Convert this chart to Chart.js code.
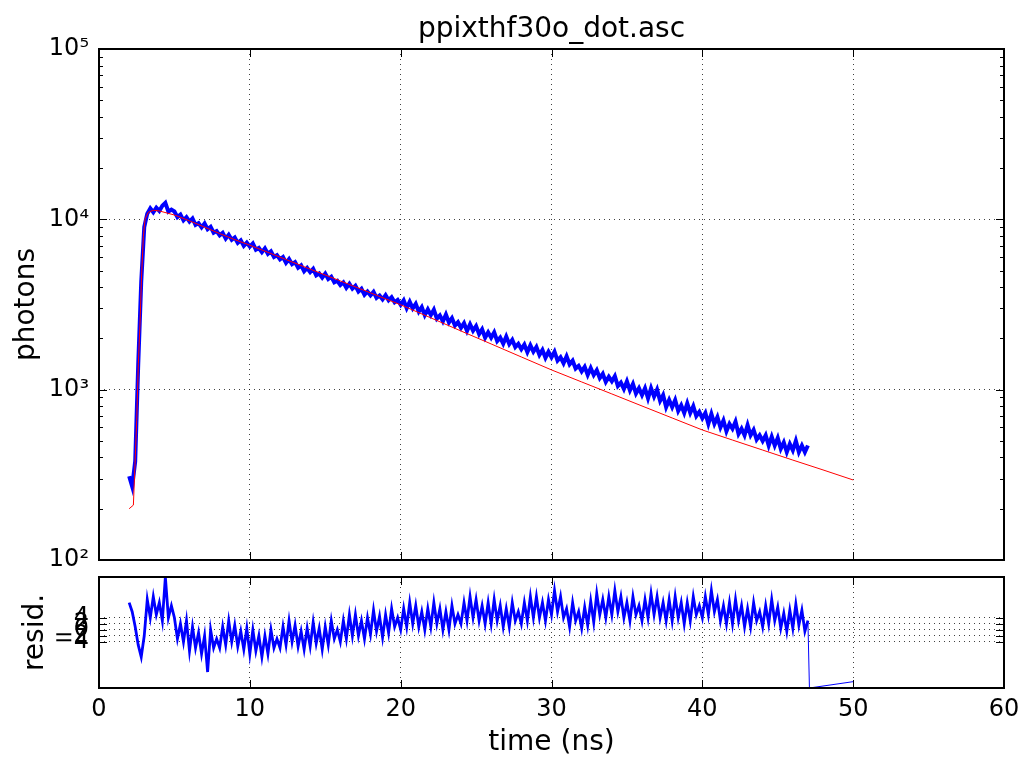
<!DOCTYPE html>
<html>
<head>
<meta charset="utf-8">
<script src="https://cdn.jsdelivr.net/npm/chart.js@4.4.1/dist/chart.umd.min.js"></script>
<style>
  html, body { margin: 0; padding: 0; background: #fff; }
  #wrap { position: relative; width: 1026px; height: 760px; }
  #decayBox { position: absolute; left: 0; top: 0; width: 1026px; height: 580px; }
  #residBox { position: absolute; left: 0; top: 565px; width: 1026px; height: 195px; }
</style>
</head>
<body>
<div id="wrap">
  <div id="decayBox"><canvas id="decayChart"></canvas></div>
  <div id="residBox"><canvas id="residChart"></canvas></div>
</div>
<script>
// labels / ticks
var chartTitle = 'ppixthf30o_dot.asc';
var xTicks = [0, 10, 20, 30, 40, 50, 60];
var photonDecades = [100, 1000, 10000, 100000];
var photonTickLabels = ['10\u00b2', '10\u00b3', '10\u2074', '10\u2075'];
var residTicks = [4, 2, 0, -2, -4];
var residTickLabels = ['4', '2', '0', '\u22122', '\u22124'];

var dataStart = 2.0;
var dataStep = 0.2;
var photonCounts = [
  310, 270, 380, 1400, 4300,
  9000, 10800, 11600, 11000, 11700,
  11200, 12000, 12500, 11100, 11400,
  11120, 10300, 10650, 9860, 10300,
  9700, 10120, 9280, 9500, 8970,
  9460, 8750, 9030, 8340, 8530,
  8050, 8320, 7700, 8120, 7590,
  7830, 7270, 7530, 6980, 7300,
  6910, 7220, 6630, 6790, 6410,
  6760, 6270, 6490, 6010, 6160,
  5820, 6010, 5550, 5840, 5450,
  5610, 5200, 5370, 4960, 5180,
  4900, 5120, 4690, 4810, 4550,
  4800, 4460, 4600, 4270, 4360,
  4120, 4270, 3960, 4180, 3920,
  4070, 3770, 3910, 3610, 3770,
  3580, 3750, 3460, 3570, 3390,
  3590, 3350, 3490, 3260, 3360,
  3150, 3350, 3010, 3280, 3000,
  3190, 2870, 3050, 2740, 2960,
  2740, 2950, 2610, 2730, 2520,
  2760, 2480, 2630, 2380, 2490,
  2310, 2460, 2210, 2420, 2220,
  2360, 2120, 2260, 2020, 2170,
  2020, 2170, 1930, 2020, 1860,
  2050, 1850, 1960, 1780, 1860,
  1730, 1840, 1660, 1820, 1670,
  1780, 1600, 1710, 1540, 1670,
  1550, 1670, 1480, 1550, 1430,
  1570, 1410, 1480, 1330, 1380,
  1280, 1360, 1220, 1340, 1220,
  1300, 1170, 1240, 1110, 1190,
  1120, 1200, 1050, 1100, 1010,
  1120, 990, 1080, 950, 1020,
  930, 1020, 890, 1020, 910,
  1000, 860, 930, 790, 870,
  790, 870, 750, 810, 730,
  830, 730, 800, 700, 740,
  680, 730, 630, 720, 630,
  690, 600, 660, 570, 630,
  590, 650, 550, 590, 540,
  620, 540, 580, 510, 540,
  500, 540, 470, 530, 470,
  520, 450, 490, 430, 480,
  440, 500, 430, 470, 430,
  470
];

// fitted curve (red)
var fitTime = [2.0, 2.28, 2.39, 2.5, 2.61, 2.72, 2.83, 2.94, 3.05, 3.27, 3.6, 4, 5, 6, 7, 8, 9, 10,
  12, 14, 16, 18, 20, 22, 24, 26, 28, 30, 32, 34, 36, 38, 40, 42, 44, 46, 48, 50];
var fitCounts = [200, 210, 370, 660, 1430, 2460, 4840, 7900, 10000, 11000, 11300, 11200, 10600, 9800, 9000, 8250, 7600, 7050,
  6000, 5100, 4350, 3700, 3150, 2640, 2210, 1855, 1556, 1306, 1110, 944, 802, 682, 580, 506, 442, 386, 338, 295];

// residuals on the same 0.2 ns grid, then the tail after the data ends
var residValues = [
  9, 6, 1, -5, -9,
  -2, 10, 4, 11, 5,
  9, 3, 17.5, 4, 8,
  4, -3, 2, -4, 3,
  -7, 1, -6, -1, -8,
  -2, -14, 0, -6, -3,
  -6, 1, -5, 3, -4,
  1.5, -5.5, -0.5, -6.5, 0.5,
  -8, 0, -7, -2, -9,
  -2, -8, 0, -6, -3,
  -6, 1, -5, 3, -4,
  1.5, -5.5, -0.5, -6.5, 0.5,
  -5.5, 2.5, -4.5, 0.5, -6.5,
  1, -5, 3, -3, 0,
  -4, 3, -3, 5, -2,
  5, -2, 3, -3, 4,
  -1.5, 6.5, -0.5, 4.5, -2.5,
  5, -1, 7, 1, 4,
  0, 7, 1, 9, 2,
  8, 1, 6, 0, 7,
  1, 9, 2, 7, 0,
  6, 0, 8, 2, 5,
  2, 9, 3, 11, 4,
  10, 3, 8, 2, 9,
  2, 10, 3, 8, 1,
  7, 1, 9, 3, 6,
  2, 9, 3, 11, 4,
  11, 4, 9, 3, 10,
  5, 13, 6, 11, 4,
  7, 1, 9, 3, 6,
  0.5, 7.5, 1.5, 9.5, 2.5,
  12, 5, 10, 4, 11,
  5, 13, 6, 11, 4,
  9, 3, 11, 5, 8,
  3, 10, 4, 12, 5,
  11, 4, 9, 3, 10,
  3, 11, 4, 9, 2,
  9, 3, 11, 5, 8,
  4, 11, 5, 13, 6,
  10, 3, 8, 2, 9,
  2, 10, 3, 8, 1,
  7, 1, 9, 3, 6,
  1, 8, 2, 10, 3,
  7.5, 0.5, 5.5, -0.5, 6.5,
  0.5, 8.5, 1.5, 6.5, -0.5,
  3
];
var residTailTime = [47.1, 50];
var residTailValues = [-19.3, -17.2];

Chart.defaults.font.family = 'DejaVu Sans';
Chart.defaults.font.size = 24;
Chart.defaults.color = '#000';

function toPoints(xs, ys) {
  return ys.map(function(v, i) { return { x: xs[i], y: v }; });
}
function gridPoints(values) {
  return values.map(function(v, i) { return { x: dataStart + i * dataStep, y: v }; });
}

var photonPoints = gridPoints(photonCounts);
var fitPoints = toPoints(fitTime, fitCounts);
var residPoints = gridPoints(residValues);
var tailPoints = [residPoints[residPoints.length - 1]].concat(toPoints(residTailTime, residTailValues));
var allResid = residValues.concat(residTailValues);

var dotted = 'rgba(0,0,0,0.75)';

// box around the axes, with inward ticks like matplotlib
var frameTicks = {
  id: 'frameTicks',
  afterDatasetsDraw: function(chart) {
    var ctx = chart.ctx, a = chart.chartArea;
    var xs = chart.scales.x, ys = chart.scales.y;
    ctx.save();
    ctx.strokeStyle = '#000';
    ctx.lineWidth = 1;
    ctx.beginPath();
    xs.ticks.forEach(function(t) {
      var px = Math.round(xs.getPixelForValue(t.value)) + 0.5;
      ctx.moveTo(px, a.top); ctx.lineTo(px, a.top + 8);
      ctx.moveTo(px, a.bottom); ctx.lineTo(px, a.bottom - 8);
    });
    ys.ticks.forEach(function(t) {
      var len = t.major ? 8 : 4;
      var py = Math.round(ys.getPixelForValue(t.value)) + 0.5;
      ctx.moveTo(a.left, py); ctx.lineTo(a.left + len, py);
      ctx.moveTo(a.right, py); ctx.lineTo(a.right - len, py);
    });
    ctx.stroke();
    ctx.lineWidth = 2;
    ctx.strokeRect(a.left, a.top, a.right - a.left, a.bottom - a.top);
    ctx.restore();
  }
};

function noLabelPadding(scale) {
  scale.paddingTop = 0;
  scale.paddingBottom = 0;
  scale.paddingLeft = 0;
  scale.paddingRight = 0;
}

function xAxis(showLabels) {
  return {
    type: 'linear',
    min: 0,
    max: 60,
    afterBuildTicks: function(scale) {
      scale.ticks = xTicks.map(function(v) { return { value: v, major: true }; });
    },
    ticks: { display: showLabels, padding: 7, maxRotation: 0 },
    grid: { color: dotted, lineWidth: 1, drawTicks: false },
    border: { display: false, dash: [1, 4] },
    title: {
      display: showLabels,
      text: 'time (ns)',
      font: { size: 28 },
      padding: { top: 0, bottom: 0 }
    },
    afterFit: function(scale) {
      scale.height = showLabels ? 72 : 0;
      noLabelPadding(scale);
    }
  };
}

new Chart(document.getElementById('decayChart'), {
  type: 'scatter',
  data: {
    datasets: [
      { data: fitPoints, showLine: true, borderColor: '#ff0000', borderWidth: 1, pointRadius: 0 },
      { data: photonPoints, showLine: true, borderColor: '#0000ff', borderWidth: 4, pointRadius: 0 }
    ]
  },
  options: {
    responsive: true,
    maintainAspectRatio: false,
    animation: false,
    layout: { padding: { left: 0, right: 22, top: 0, bottom: 20 } },
    plugins: {
      legend: { display: false },
      tooltip: { enabled: false },
      title: {
        display: true,
        text: chartTitle,
        fullSize: false,
        font: { size: 28, weight: 'normal' },
        padding: { top: 13.2, bottom: 2.2 }
      }
    },
    scales: {
      x: xAxis(false),
      y: {
        type: 'logarithmic',
        min: photonDecades[0],
        max: photonDecades[photonDecades.length - 1],
        afterBuildTicks: function(scale) {
          var ticks = [];
          photonDecades.forEach(function(d, i) {
            ticks.push({ value: d, major: true });
            if (i < photonDecades.length - 1) {
              for (var k = 2; k < 10; k++) ticks.push({ value: d * k, major: false });
            }
          });
          scale.ticks = ticks;
        },
        ticks: {
          padding: 10,
          autoSkip: false,
          callback: function(value) {
            var i = photonDecades.indexOf(value);
            return i >= 0 ? photonTickLabels[i] : '';
          }
        },
        grid: {
          drawTicks: false,
          lineWidth: 1,
          color: function(c) {
            return c.tick && photonDecades.indexOf(c.tick.value) >= 0 ? dotted : 'rgba(0,0,0,0)';
          }
        },
        border: { display: false, dash: [1, 4] },
        title: { display: true, text: 'photons', font: { size: 28 }, padding: { top: 10.2, bottom: 0 } },
        afterFit: function(scale) {
          scale.width = 99;
          noLabelPadding(scale);
        }
      }
    }
  },
  plugins: [frameTicks]
});

new Chart(document.getElementById('residChart'), {
  type: 'scatter',
  data: {
    datasets: [
      { data: residPoints, showLine: true, borderColor: '#0000ff', borderWidth: 2.8, pointRadius: 0 },
      { data: tailPoints, showLine: true, borderColor: '#0000ff', borderWidth: 1, pointRadius: 0 }
    ]
  },
  options: {
    responsive: true,
    maintainAspectRatio: false,
    animation: false,
    layout: { padding: { left: 0, right: 22, top: 12, bottom: 0 } },
    plugins: { legend: { display: false }, tooltip: { enabled: false } },
    scales: {
      x: xAxis(true),
      y: {
        type: 'linear',
        min: Math.min.apply(null, allResid),
        max: Math.max.apply(null, allResid),
        afterBuildTicks: function(scale) {
          scale.ticks = residTicks.map(function(v) { return { value: v, major: true }; });
        },
        ticks: {
          padding: 10,
          autoSkip: false,
          callback: function(value) {
            var i = residTicks.indexOf(value);
            return i >= 0 ? residTickLabels[i] : '';
          }
        },
        grid: { drawTicks: false, lineWidth: 1, color: dotted },
        border: { display: false, dash: [1, 4] },
        title: { display: true, text: 'resid.', font: { size: 28 }, padding: { top: 19.2, bottom: 0 } },
        afterFit: function(scale) {
          scale.width = 99;
          noLabelPadding(scale);
        }
      }
    }
  },
  plugins: [frameTicks]
});
</script>
</body>
</html>
